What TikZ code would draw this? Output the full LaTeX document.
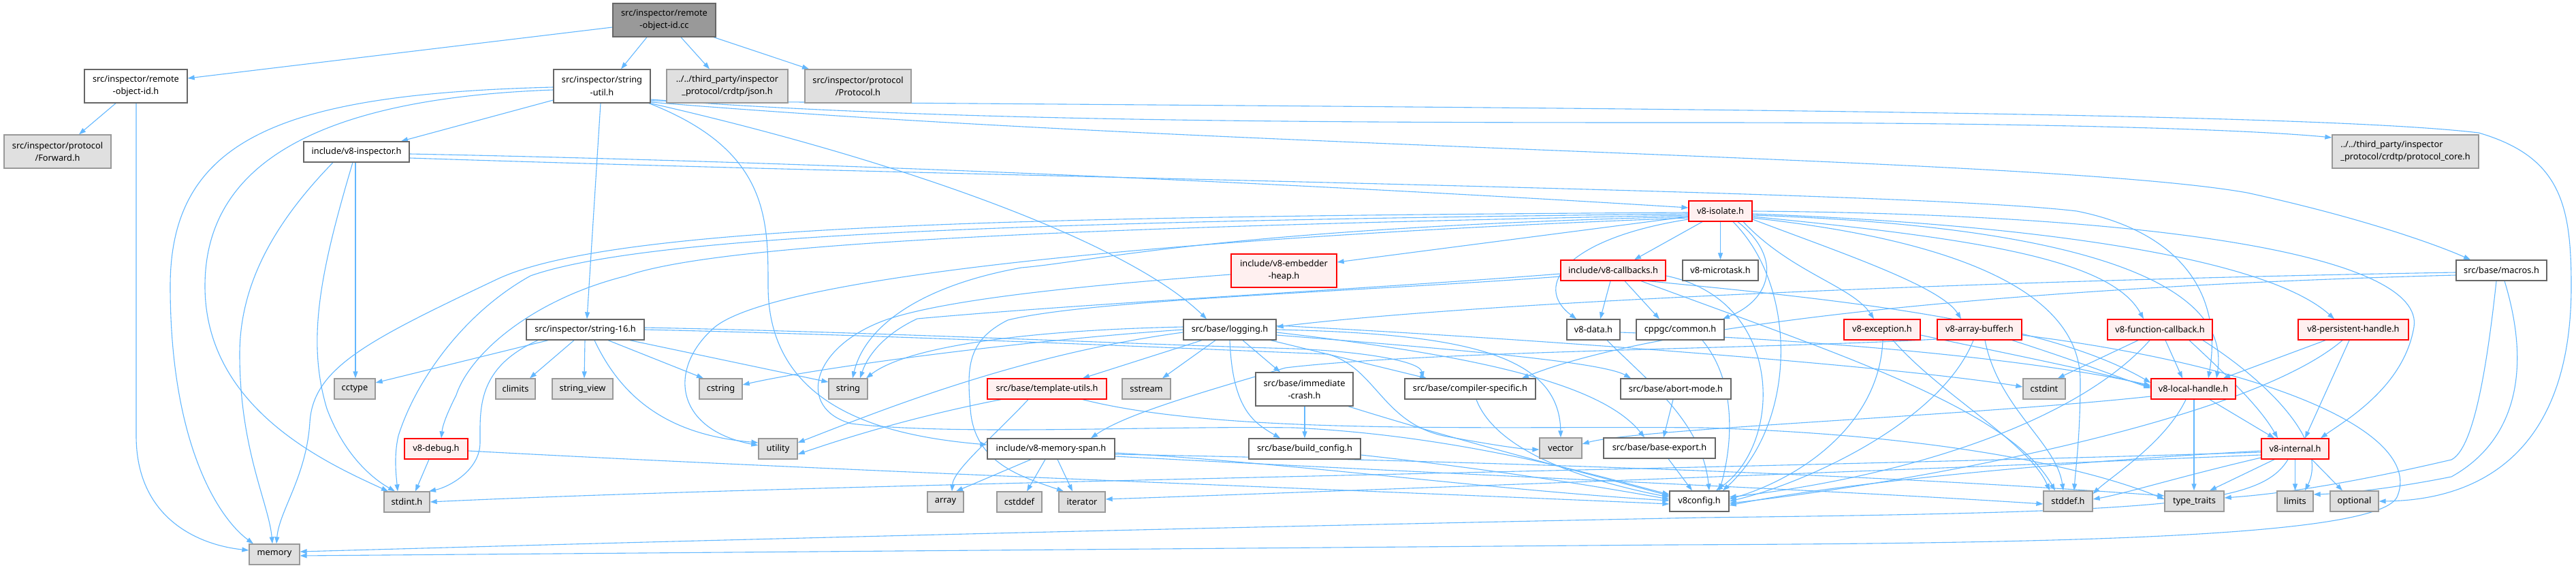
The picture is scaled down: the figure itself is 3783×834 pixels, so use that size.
\documentclass[tikz,border=0pt]{standalone}
\usepackage{fontspec}
\setmainfont{Noto Sans}
\usetikzlibrary{arrows.meta}
\definecolor{edgec}{HTML}{63B8FF}
\definecolor{wborder}{HTML}{666666}
\definecolor{gfill}{HTML}{E0E0E0}
\definecolor{gborder}{HTML}{999999}
\definecolor{rfill}{HTML}{FFF0F0}
\definecolor{rborder}{HTML}{FF0000}
\definecolor{rootfill}{HTML}{999999}
\pgfdeclarelayer{paper}
\pgfdeclarelayer{edges}
\pgfsetlayers{paper,edges,main}
\begin{document}
\begin{tikzpicture}[x=1pt,y=-1pt,
  base/.style={rectangle, inner sep=0pt, line width=1.3pt, font=\fontsize{12.8pt}{18.3pt}\selectfont, align=center, minimum height=30pt, text=black},
  wn/.style={base, fill=white, draw=wborder},
  gn/.style={base, fill=gfill, draw=gborder},
  rn/.style={base, fill=rfill, draw=rborder},
  rootn/.style={base, fill=rootfill, draw=wborder},
  e/.style={draw=edgec, line width=1.1pt, -{Triangle[length=10pt,width=7pt]}}]
\begin{pgfonlayer}{paper}
\fill[white] (0,0) rectangle (3783,834);
\end{pgfonlayer}
\useasboundingbox (0,0) rectangle (3783,834);
% nodes
\node[rootn, minimum width=151pt, minimum height=49pt] (cc) at (975.5,29.5) {src/inspector/remote\\-object-id.cc};
\node[wn, minimum width=151pt, minimum height=49pt] (roh) at (199.5,126.5) {src/inspector/remote\\-object-id.h};
\node[wn, minimum width=142pt, minimum height=49pt] (su) at (884,126.5) {src/inspector/string\\-util.h};
\node[gn, minimum width=178pt, minimum height=49pt] (json) at (1068,126.5) {../../third\_party/inspector\\\_protocol/crdtp/json.h};
\node[gn, minimum width=156pt, minimum height=49pt] (protocol) at (1260,126.5) {src/inspector/protocol\\/Protocol.h};
\node[gn, minimum width=157pt, minimum height=49pt] (fwd) at (84.5,222.5) {src/inspector/protocol\\/Forward.h};
\node[wn, minimum width=155pt] (insp) at (523.5,223) {include/v8-inspector.h};
\node[rn, minimum width=93pt] (iso) at (2526.5,310) {v8-isolate.h};
\node[gn, minimum width=215pt, minimum height=49pt, align=left] (pcore) at (3532.5,222.5) {../../third\_party/inspector\\\_protocol/crdtp/protocol\_core.h};
\node[rn, minimum width=155pt, minimum height=49pt] (emb) at (1885.5,397.5) {include/v8-embedder\\-heap.h};
\node[rn, minimum width=154pt] (cb) at (2369,397) {include/v8-callbacks.h};
\node[wn, minimum width=111pt] (micro) at (2526.5,397) {v8-microtask.h};
\node[wn, minimum width=133pt] (macros) at (3673.5,397) {src/base/macros.h};
\node[wn, minimum width=173pt] (s16) at (859.5,484) {src/inspector/string-16.h};
\node[wn, minimum width=136pt] (logging) at (1806,484) {src/base/logging.h};
\node[wn, minimum width=78pt] (data) at (2340,484) {v8-data.h};
\node[wn, minimum width=129pt] (cppgc) at (2467.5,484) {cppgc/common.h};
\node[rn, minimum width=112pt] (exc) at (2764,484) {v8-exception.h};
\node[rn, minimum width=124pt] (ab) at (2907,484) {v8-array-buffer.h};
\node[rn, minimum width=154pt] (fcb) at (3172,484) {v8-function-callback.h};
\node[rn, minimum width=162pt] (ph) at (3456,484) {v8-persistent-handle.h};
\node[gn, minimum width=60pt] (cctype) at (521,571) {cctype};
\node[gn, minimum width=58pt] (climits) at (757,571) {climits};
\node[gn, minimum width=89pt] (sview) at (855.5,571) {string\_view};
\node[gn, minimum width=63pt] (cstring) at (1058.5,571) {cstring};
\node[gn, minimum width=57pt] (string) at (1245.5,571) {string};
\node[rn, minimum width=175pt] (tu) at (1537.5,571) {src/base/template-utils.h};
\node[gn, minimum width=71pt] (sstream) at (1683.5,571) {sstream};
\node[wn, minimum width=143pt, minimum height=49pt] (imm) at (1915.5,571.5) {src/base/immediate\\-crash.h};
\node[wn, minimum width=192pt] (cs) at (2159,571) {src/base/compiler-specific.h};
\node[wn, minimum width=162pt] (abort) at (2461,571) {src/base/abort-mode.h};
\node[gn, minimum width=62pt] (cstdint) at (3002,571) {cstdint};
\node[rn, minimum width=124pt] (lh) at (3221,571) {v8-local-handle.h};
\node[rn, minimum width=93pt] (debug) at (640.5,659) {v8-debug.h};
\node[gn, minimum width=57pt] (utility) at (1142.5,659) {utility};
\node[wn, minimum width=187pt] (ms) at (1543.5,659) {include/v8-memory-span.h};
\node[wn, minimum width=164pt] (bc) at (1916,659) {src/base/build\_config.h};
\node[gn, minimum width=62pt] (vector) at (2292,658) {vector};
\node[wn, minimum width=164pt] (be) at (2437,658) {src/base/base-export.h};
\node[rn, minimum width=99pt] (internal) at (3370.5,659) {v8-internal.h};
\node[gn, minimum width=67pt] (stdint) at (597.5,737) {stdint.h};
\node[gn, minimum width=53pt] (array) at (1388.5,737) {array};
\node[gn, minimum width=66pt] (cstddef) at (1497,737) {cstddef};
\node[gn, minimum width=68pt] (iterator) at (1589,737) {iterator};
\node[wn, minimum width=87pt] (v8config) at (2495.5,736) {v8config.h};
\node[gn, minimum width=72pt] (stddef) at (3037,736) {stddef.h};
\node[gn, minimum width=87pt] (tt) at (3222.5,736) {type\_traits};
\node[gn, minimum width=53pt] (limits) at (3370.5,736) {limits};
\node[gn, minimum width=71pt] (optional) at (3457.5,736) {optional};
\node[gn, minimum width=74pt] (memory) at (403,814) {memory};
\begin{pgfonlayer}{edges}
% cc
\draw[e] (cc.west |- 0,40) -- (roh.east |- 0,115);
\draw[e] (cc.south -| 950,0) -- (su.north -| 912,0);
\draw[e] (cc.south -| 1000,0) -- (json.north -| 1042,0);
\draw[e] (cc.south -| 1048,0) -- (protocol.north -| 1188,0);
% roh
\draw[e] (roh.south -| 170,0) -- (fwd.north -| 116,0);
\draw[e] (roh.south -| 200,0) -- (200,640) .. controls (200,760) and (290,800) .. (memory.west |- 0,808);
% su
\draw[e] (su.west |- 0,128) .. controls (420,138) and (250,200) .. (250,420) .. controls (250,650) and (320,760) .. (memory.north -| 372,0);
\draw[e] (su.west |- 0,132) .. controls (450,145) and (301,250) .. (301,420) .. controls (301,600) and (480,680) .. (stdint.north -| 570,0);
\draw[e] (su.west |- 0,147) -- (insp.north -| 589,0);
\draw[e] (su.south -| 882,0) -- (s16.north -| 862,0);
\draw[e] (su.south -| 953,0) .. controls (1128,220) and (1128,320) .. (1128,420) .. controls (1128,600) and (1300,640) .. (ms.west |- 0,653);
\draw[e] (su.south -| 955,0) .. controls (1300,230) and (1650,350) .. (logging.north -| 1772,0);
\draw[e] (su.east |- 0,148) .. controls (2000,158) and (3350,160) .. (3640,195) .. controls (3760,230) and (3776,300) .. (3776,420) .. controls (3776,700) and (3600,735) .. (optional.east);
\draw[e] (su.east |- 0,146) .. controls (1400,180) and (2000,180) .. (2500,180) .. controls (3000,180) and (3300,190) .. (pcore.west |- 0,202);
\draw[e] (su.east |- 0,150) .. controls (1800,220) and (3000,230) .. (3300,283) .. controls (3470,320) and (3580,360) .. (macros.north -| 3628,0);
% insp
\draw[e] (insp.south -| 522,0) -- (cctype.north -| 522,0);
\draw[e] (insp.south -| 489,0) .. controls (400,330) and (352,420) .. (352,520) .. controls (352,660) and (395,740) .. (memory.north -| 400,0);
\draw[e] (insp.south -| 518,0) .. controls (470,400) and (450,500) .. (480,600) .. controls (510,680) and (560,710) .. (stdint.north -| 580,0);
\draw[e] (insp.east |- 0,226) .. controls (1300,240) and (2000,275) .. (iso.west |- 0,305);
\draw[e] (insp.east |- 0,232) .. controls (1500,262) and (2800,280) .. (3050,310) .. controls (3200,340) and (3265,430) .. (lh.north -| 3243,0);
% iso
\draw[e] (iso.west |- 0,318) -- (emb.east |- 0,385);
\draw[e] (iso.south -| 2500,0) -- (cb.north -| 2400,0);
\draw[e] (iso.south) -- (micro.north);
\draw[e] (iso.west |- 0,322) .. controls (2300,350) and (2250,420) .. (data.north -| 2315,0);
\draw[e] (iso.south -| 2552,0) .. controls (2620,380) and (2600,440) .. (cppgc.north -| 2530,0);
\draw[e] (iso.south -| 2560,0) .. controls (2630,400) and (2720,420) .. (exc.north -| 2752,0);
\draw[e] (iso.east |- 0,322) .. controls (2700,370) and (2850,420) .. (ab.north -| 2880,0);
\draw[e] (iso.east |- 0,318) .. controls (2900,350) and (3100,380) .. (fcb.north -| 3148,0);
\draw[e] (iso.east |- 0,314) .. controls (3000,330) and (3330,380) .. (ph.north -| 3428,0);
\draw[e] (iso.east |- 0,316) .. controls (3000,330) and (3280,400) .. (lh.north -| 3255,0);
\draw[e] (iso.east |- 0,310) .. controls (3200,315) and (3560,380) .. (3545,480) .. controls (3530,570) and (3440,620) .. (internal.north -| 3408,0);
\draw[e] (iso.east |- 0,320) .. controls (2850,350) and (3055,420) .. (3055,560) .. controls (3055,640) and (3048,690) .. (stddef.north -| 3046,0);
\draw[e] (iso.south -| 2545,0) .. controls (2640,420) and (2640,620) .. (v8config.north -| 2530,0);
\draw[e] (iso.west |- 0,312) .. controls (1500,318) and (900,330) .. (730,410) .. controls (540,500) and (460,540) .. (455,620) .. controls (450,700) and (410,750) .. (memory.north -| 406,0);
\draw[e] (iso.west |- 0,314) .. controls (1500,325) and (950,345) .. (779,405) .. controls (680,460) and (610,560) .. (585,640) .. controls (578,670) and (582,700) .. (stdint.north -| 584,0);
\draw[e] (iso.west |- 0,316) .. controls (1500,335) and (1050,360) .. (920,405) .. controls (780,440) and (690,520) .. (670,580) .. controls (655,610) and (650,625) .. (debug.north -| 648,0);
\draw[e] (iso.west |- 0,318) .. controls (1800,335) and (1600,385) .. (1500,393) .. controls (1350,420) and (1270,480) .. (string.north -| 1252,0);
\draw[e] (iso.west |- 0,320) .. controls (1800,345) and (1150,400) .. (1050,480) .. controls (980,540) and (990,630) .. (utility.west |- 0,654);
% cb
\draw[e] (cb.south -| 2365,0) -- (data.north -| 2350,0);
\draw[e] (cb.south -| 2386,0) -- (cppgc.north -| 2437,0);
\draw[e] (cb.south -| 2420,0) .. controls (2700,440) and (3000,470) .. (lh.west |- 0,562);
\draw[e] (cb.south -| 2410,0) .. controls (2700,520) and (2950,600) .. (stddef.north -| 3018,0);
\draw[e] (cb.west |- 0,402) .. controls (2000,425) and (1600,445) .. (1347,468) .. controls (1300,490) and (1275,520) .. (string.north -| 1263,0);
\draw[e] (cb.west |- 0,406) .. controls (2000,428) and (1600,440) .. (1480,470) .. controls (1420,500) and (1420,540) .. (1425,600) .. controls (1430,680) and (1500,700) .. (iterator.north -| 1562,0);
\draw[e] (cb.east |- 0,405) .. controls (2620,440) and (2620,650) .. (v8config.north -| 2520,0);
% emb
\draw[e] (emb.west |- 0,403) .. controls (1650,415) and (1400,435) .. (1300,470) .. controls (1190,510) and (1170,600) .. (1250,622) .. controls (1400,640) and (1700,625) .. (1900,628) .. controls (2150,640) and (2350,700) .. (v8config.west |- 0,726);
% data, cppgc
\draw[e] (data.east |- 0,488) .. controls (2700,500) and (3000,530) .. (lh.west |- 0,566);
\draw[e] (data.south -| 2360,0) .. controls (2420,560) and (2500,620) .. (v8config.north -| 2510,0);
\draw[e] (cppgc.south -| 2500,0) .. controls (2550,560) and (2545,650) .. (v8config.north -| 2525,0);
% exc
\draw[e] (exc.east |- 0,492) .. controls (2950,520) and (3080,545) .. (lh.west |- 0,568);
\draw[e] (exc.south -| 2780,0) .. controls (2850,580) and (2980,650) .. (stddef.north -| 3010,0);
\draw[e] (exc.south -| 2765,0) .. controls (2760,620) and (2650,700) .. (v8config.east |- 0,733);
% ab
\draw[e] (ab.south -| 2955,0) .. controls (3050,530) and (3100,550) .. (lh.west |- 0,570);
\draw[e] (ab.south -| 2915,0) .. controls (2935,600) and (3020,650) .. (stddef.north -| 3030,0);
\draw[e] (ab.south -| 2898,0) .. controls (2850,620) and (2650,710) .. (v8config.east |- 0,736);
\draw[e] (ab.east |- 0,492) .. controls (3350,540) and (3560,640) .. (3520,730) .. controls (3490,790) and (3000,798) .. (2450,800) -- (memory.east |- 0,816);
\draw[e] (ab.west |- 0,498) .. controls (2600,512) and (2100,515) .. (1888,540) .. controls (1750,580) and (1650,610) .. (ms.north -| 1602,0);
% fcb
\draw[e] (fcb.south -| 3140,0) -- (cstdint.north -| 3022,0);
\draw[e] (fcb.south -| 3157,0) .. controls (3050,620) and (2800,700) .. (v8config.east |- 0,730);
\draw[e] (fcb.south -| 3180,0) -- (lh.north -| 3205,0);
\draw[e] (fcb.south -| 3215,0) .. controls (3280,560) and (3320,600) .. (internal.north -| 3345,0);
\draw[e] (fcb.south -| 3235,0) .. controls (3330,560) and (3420,650) .. (limits.north -| 3385,0);
% ph
\draw[e] (ph.south -| 3415,0) -- (lh.north -| 3265,0);
\draw[e] (ph.south -| 3440,0) .. controls (3300,620) and (2800,710) .. (v8config.east |- 0,739);
\draw[e] (ph.south -| 3450,0) -- (internal.north -| 3385,0);
% lh
\draw[e] (lh.west |- 0,582) .. controls (2900,610) and (2400,630) .. (vector.east |- 0,652);
\draw[e] (lh.south -| 3210,0) .. controls (3180,650) and (3100,700) .. (stddef.east |- 0,725);
\draw[e] (lh.south -| 3222,0) -- (tt.north -| 3222,0);
\draw[e] (lh.south -| 3245,0) -- (internal.north -| 3340,0);
% internal
\draw[e] (internal.west |- 0,662) .. controls (3000,680) and (2700,710) .. (v8config.east |- 0,742);
\draw[e] (internal.west |- 0,664) .. controls (2500,690) and (1200,710) .. (stdint.east |- 0,737);
\draw[e] (internal.west |- 0,668) .. controls (2800,690) and (2000,720) .. (iterator.east |- 0,733);
\draw[e] (internal.west |- 0,672) .. controls (3200,700) and (3120,725) .. (stddef.east |- 0,733);
\draw[e] (internal.south -| 3340,0) -- (tt.north -| 3245,0);
\draw[e] (internal.south -| 3360,0) .. controls (3320,740) and (3200,752) .. (2500,760) .. controls (1500,780) and (800,800) .. (memory.east |- 0,810);
\draw[e] (internal.south) -- (limits.north);
\draw[e] (internal.south -| 3395,0) -- (optional.north -| 3440,0);
% macros
\draw[e] (macros.west |- 0,400) .. controls (3000,410) and (2200,440) .. (logging.east |- 0,480);
\draw[e] (macros.west |- 0,404) .. controls (3000,420) and (2450,470) .. (cs.north -| 2235,0);
\draw[e] (macros.south -| 3666,0) .. controls (3650,560) and (3630,660) .. (3600,675) .. controls (3450,710) and (3350,725) .. (tt.east |- 0,731);
\draw[e] (macros.south -| 3678,0) .. controls (3720,550) and (3690,650) .. (3600,700) .. controls (3500,720) and (3430,725) .. (limits.east |- 0,726);
% logging
\draw[e] (logging.south -| 1765,0) -- (tu.north -| 1590,0);
\draw[e] (logging.south -| 1785,0) -- (sstream.north -| 1707,0);
\draw[e] (logging.south -| 1806,0) .. controls (1810,600) and (1840,620) .. (bc.north -| 1880,0);
\draw[e] (logging.south -| 1825,0) -- (imm.north -| 1880,0);
\draw[e] (logging.south -| 1866,0) -- (cs.north -| 2095,0);
\draw[e] (logging.east |- 0,492) .. controls (2100,510) and (2350,530) .. (abort.north -| 2395,0);
\draw[e] (logging.east |- 0,488) .. controls (2150,520) and (2350,560) .. (be.north -| 2415,0);
\draw[e] (logging.east |- 0,484) .. controls (2150,490) and (2290,520) .. (vector.north -| 2292,0);
\draw[e] (logging.east |- 0,478) .. controls (2300,500) and (2800,540) .. (cstdint.west |- 0,568);
\draw[e] (logging.west |- 0,480) .. controls (1500,485) and (1330,510) .. (string.north -| 1272,0);
\draw[e] (logging.west |- 0,484) .. controls (1500,500) and (1200,540) .. (cstring.east |- 0,565);
\draw[e] (logging.west |- 0,488) .. controls (1500,520) and (1300,600) .. (utility.east |- 0,650);
% tu
\draw[e] (tu.south -| 1510,0) .. controls (1460,640) and (1400,690) .. (array.north -| 1398,0);
\draw[e] (tu.south -| 1470,0) .. controls (1350,610) and (1250,640) .. (utility.east |- 0,667);
\draw[e] (tu.south -| 1590,0) .. controls (1800,640) and (2200,625) .. (2500,628) .. controls (2900,640) and (3100,700) .. (tt.west |- 0,733);
% imm, bc, cs, abort, be
\draw[e] (imm.south -| 1916,0) -- (bc.north -| 1916,0);
\draw[e] (imm.south -| 1980,0) .. controls (2150,650) and (2350,700) .. (v8config.west |- 0,728);
\draw[e] (bc.east |- 0,668) .. controls (2200,690) and (2350,715) .. (v8config.west |- 0,733);
\draw[e] (cs.south -| 2168,0) .. controls (2200,670) and (2350,710) .. (v8config.west |- 0,730);
\draw[e] (abort.south -| 2457,0) -- (be.north -| 2443,0);
\draw[e] (be.south -| 2450,0) -- (v8config.north -| 2485,0);
% ms
\draw[e] (ms.south -| 1514,0) -- (array.north -| 1404,0);
\draw[e] (ms.south -| 1535,0) -- (cstddef.north -| 1508,0);
\draw[e] (ms.south -| 1553,0) -- (iterator.north -| 1575,0);
\draw[e] (ms.east |- 0,665) .. controls (1900,680) and (2200,720) .. (v8config.west |- 0,735);
\draw[e] (ms.east |- 0,670) .. controls (2200,700) and (2700,720) .. (stddef.west |- 0,740);
\draw[e] (ms.east |- 0,667) .. controls (2300,680) and (2800,700) .. (tt.west |- 0,728);
% s16
\draw[e] (s16.south -| 805,0) -- (cctype.east |- 0,562);
\draw[e] (s16.south -| 843,0) -- (climits.north -| 778,0);
\draw[e] (s16.south -| 859,0) -- (sview.north -| 858,0);
\draw[e] (s16.south -| 873,0) .. controls (920,600) and (1000,640) .. (utility.west |- 0,650);
\draw[e] (s16.south -| 893,0) -- (cstring.north -| 1033,0);
\draw[e] (s16.south -| 925,0) -- (string.west |- 0,561);
\draw[e] (s16.south -| 790,0) .. controls (700,540) and (705,600) .. (705,650) .. controls (705,690) and (660,715) .. (stdint.north -| 630,0);
\draw[e] (s16.east |- 0,481) .. controls (1300,488) and (1650,505) .. (1900,512) .. controls (2000,516) and (2085,530) .. (cs.north -| 2090,0);
\draw[e] (s16.east |- 0,484) .. controls (1300,492) and (1700,510) .. (1950,520) .. controls (2020,540) and (2030,620) .. (2120,640) .. controls (2200,655) and (2240,660) .. (vector.west |- 0,660);
% debug
\draw[e] (debug.south -| 630,0) -- (stdint.north -| 610,0);
\draw[e] (debug.east |- 0,662) .. controls (1200,690) and (2000,720) .. (v8config.west |- 0,740);
\end{pgfonlayer}
\end{tikzpicture}
\end{document}
